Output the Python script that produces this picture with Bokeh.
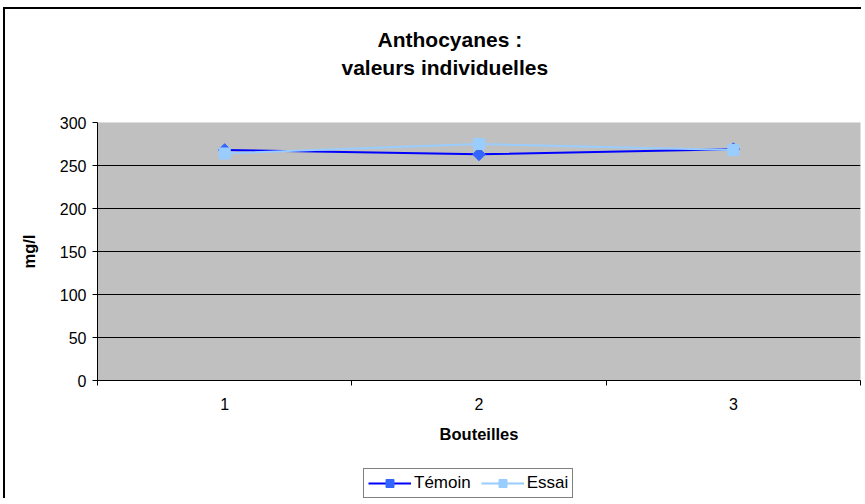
from bokeh.plotting import figure
from bokeh.layouts import column
from bokeh.models import (FixedTicker, Range1d, Legend, LegendItem, Title)
from bokeh.embed import file_html
from bokeh.resources import INLINE

bottles = [1, 2, 3]
bottle_labels = ["1", "2", "3"]
temoin = [268, 263, 269]
essai = [264, 275, 268]
y_ticks = [0, 50, 100, 150, 200, 250, 300]
series_names = ["Témoin", "Essai"]

FONT = "Liberation Sans"
X0, Y0 = 5, 9            # figure content origin on the page (after css margin + border)
W, H = 858, 455
ML, MT, FW, FH = 97 - X0, 122 - Y0, 763, 258

p = figure(width=W, height=H, output_backend="svg", toolbar_location=None,
           x_range=Range1d(0.5, 3.5), y_range=Range1d(0, 300),
           min_border_left=ML, min_border_top=MT,
           min_border_right=W - ML - FW, min_border_bottom=H - MT - FH)
p.styles = {"margin-left": "3px", "margin-top": "7px",
            "border-left": "2px solid black", "border-top": "2px solid black"}
p.background_fill_color = "#C0C0C0"
p.border_fill_color = "white"
p.outline_line_color = None

# x axis
p.xaxis.ticker = FixedTicker(ticks=bottles, minor_ticks=[0.5, 1.5, 2.5, 3.5])
p.xaxis.major_label_overrides = {b: l for b, l in zip(bottles, bottle_labels)}
p.xaxis.major_tick_out = 0
p.xaxis.major_tick_in = 0
p.xaxis.minor_tick_out = 5
p.xaxis.minor_tick_in = 0
p.xaxis.minor_tick_line_color = "black"
p.xaxis.axis_line_color = "black"
p.xaxis.major_label_text_font = FONT
p.xaxis.major_label_text_font_size = "16px"
p.xaxis.major_label_text_color = "black"
p.xaxis.major_label_standoff = 12
p.xaxis.axis_label = "Bouteilles"
p.xaxis.axis_label_text_font = FONT
p.xaxis.axis_label_text_font_style = "bold"
p.xaxis.axis_label_text_font_size = "16.5px"
p.xaxis.axis_label_text_color = "black"
p.xaxis.axis_label_standoff = 12

# y axis
p.yaxis.ticker = FixedTicker(ticks=y_ticks, minor_ticks=[])
p.yaxis.major_tick_out = 5
p.yaxis.major_tick_in = 0
p.yaxis.major_tick_line_color = "black"
p.yaxis.axis_line_color = "black"
p.yaxis.major_label_text_font = FONT
p.yaxis.major_label_text_font_size = "16px"
p.yaxis.major_label_text_color = "black"
p.yaxis.major_label_standoff = 6
p.yaxis.axis_label = "mg/l"
p.yaxis.axis_label_text_font = FONT
p.yaxis.axis_label_text_font_style = "bold"
p.yaxis.axis_label_text_font_size = "16.5px"
p.yaxis.axis_label_text_color = "black"
p.yaxis.axis_label_standoff = 19

p.xgrid.grid_line_color = None
p.ygrid.ticker = FixedTicker(ticks=y_ticks[1:-1])
p.ygrid.grid_line_color = "black"
p.ygrid.grid_line_width = 1

# series styles
T_LINE, T_MARK, E_COL = "#0000FF", "#3366FF", "#99CCFF"

p.line(bottles, temoin, line_color=T_LINE, line_width=2)
p.scatter(bottles, temoin, marker="square", angle=45, angle_units="deg", size=9,
          fill_color=T_MARK, line_color=T_MARK)
p.line(bottles, essai, line_color=E_COL, line_width=2)
p.scatter(bottles, essai, marker="square", size=11, fill_color=E_COL, line_color=E_COL)

# title (first added sits nearest the plot)
p.add_layout(Title(text=" ", text_font_size="1px", standoff=39), "above")
p.add_layout(Title(text="valeurs individuelles", align="left", offset=244, standoff=4,
                   text_font=FONT, text_font_style="bold", text_font_size="21px",
                   text_color="black"), "above")
p.add_layout(Title(text="Anthocyanes :", align="left", offset=280, standoff=2,
                   text_font=FONT, text_font_style="bold", text_font_size="21px",
                   text_color="black"), "above")

# legend strip below the chart (its renderers only provide the legend swatches;
# their single point lies outside the visible range)
q = figure(width=W, height=36, output_backend="svg", toolbar_location=None,
           x_range=Range1d(0, 1), y_range=Range1d(0, 1),
           x_axis_type=None, y_axis_type=None,
           min_border_left=0, min_border_right=0, min_border_top=0, min_border_bottom=0)
q.styles = {"margin-left": "3px", "border-left": "2px solid black"}
q.outline_line_color = None
q.background_fill_color = "white"
q.border_fill_color = "white"
off = [-5]
ql1 = q.line(off, off, line_color=T_LINE, line_width=2)
qs1 = q.scatter(off, off, marker="square", angle=45, angle_units="deg", size=9,
                fill_color=T_MARK, line_color=T_MARK)
ql2 = q.line(off, off, line_color=E_COL, line_width=2)
qs2 = q.scatter(off, off, marker="square", size=11, fill_color=E_COL, line_color=E_COL)

legend = Legend(items=[LegendItem(label=series_names[0], renderers=[ql1, qs1]),
                       LegendItem(label=series_names[1], renderers=[ql2, qs2])],
                orientation="horizontal", location=(266, 0),
                label_text_font=FONT, label_text_font_size="17px", label_text_color="black",
                glyph_width=43, glyph_height=20, label_height=20, label_standoff=3, spacing=10,
                padding=4, margin=0, border_line_color="black", border_line_width=1,
                background_fill_color="white", background_fill_alpha=1)
q.add_layout(legend)

layout = column(p, q, spacing=0)
open("out.html", "w").write(file_html(layout, INLINE))
